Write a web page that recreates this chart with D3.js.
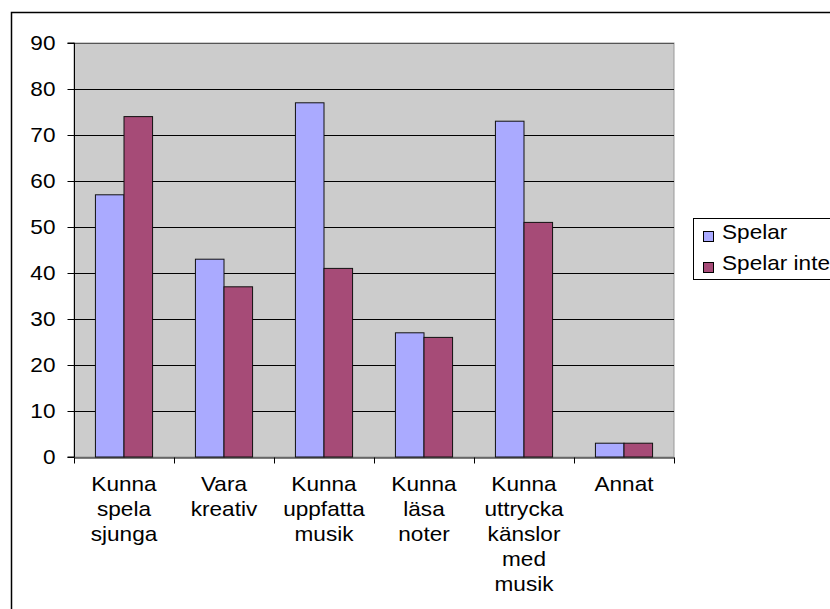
<!DOCTYPE html>
<html><head><meta charset="utf-8">
<script src="https://cdnjs.cloudflare.com/ajax/libs/d3/7.8.5/d3.min.js"></script>
<style>
html,body{margin:0;padding:0;background:#fff;}
svg{display:block;font-family:"Liberation Sans",Arial,sans-serif;}
</style></head>
<body>
<svg id="c" width="830" height="609"></svg>
<script>
const categories = [
  ["Kunna","spela","sjunga"],
  ["Vara","kreativ"],
  ["Kunna","uppfatta","musik"],
  ["Kunna","läsa","noter"],
  ["Kunna","uttrycka","känslor","med","musik"],
  ["Annat"]
];
const seriesNames = ["Spelar","Spelar inte"];
const spelar = [57, 43, 77, 27, 73, 3];
const spelarInte = [74, 37, 41, 26, 51, 3];
const yTicks = [0,10,20,30,40,50,60,70,80,90];
const colors = ["#AAAAFF","#A64B77"];

const SX = 1.13; // horizontal stretch of text in the reference
const svg = d3.select("#c");
const plot = {left:74, right:674, top:43, bottom:457};

// outer chart border
svg.append("rect").attr("x",11.5).attr("y",12.5).attr("width",830).attr("height",620)
  .attr("fill","#fff").attr("stroke","#000").attr("stroke-width",1.5);

const catIdx = categories.map((d,i)=>i);
const x0 = d3.scaleBand().domain(catIdx).range([plot.left, plot.right]).padding(0);
const x1 = d3.scaleBand().domain(seriesNames).range([0, x0.bandwidth()]).paddingInner(0).paddingOuter(0.75);
const y = d3.scaleLinear().domain([0,90]).range([plot.bottom, plot.top]);

// plot background
svg.append("rect").attr("x",plot.left).attr("y",plot.top)
  .attr("width",plot.right-plot.left).attr("height",plot.bottom-plot.top)
  .attr("fill","#CCCCCC").attr("stroke","#999").attr("stroke-width",1);

// gridlines
svg.append("g").selectAll("line").data(yTicks.filter(t=>t>0 && t<90)).join("line")
  .attr("x1",plot.left).attr("x2",plot.right)
  .attr("y1",d=>Math.round(y(d))+0.5).attr("y2",d=>Math.round(y(d))+0.5)
  .attr("stroke","#000").attr("stroke-width",1);
svg.append("line").attr("x1",plot.left).attr("x2",plot.right)
  .attr("y1",plot.top+0.5).attr("y2",plot.top+0.5).attr("stroke","#555");

// bars
const data = categories.map((c,i)=>[spelar[i], spelarInte[i]]);
const groups = svg.append("g").selectAll("g").data(data).join("g")
  .attr("transform",(d,i)=>`translate(${x0(i)},0)`);
groups.selectAll("rect").data(d=>d.map((v,j)=>({v, s:seriesNames[j], j}))).join("rect")
  .attr("x",d=>x1(d.s)).attr("width",x1.bandwidth())
  .attr("y",d=>y(d.v)).attr("height",d=>y(0)-y(d.v))
  .attr("fill",d=>colors[d.j]).attr("stroke","#111").attr("stroke-width",1);

// y axis
const yAxis = d3.axisLeft(y).tickValues(yTicks).tickSize(7).tickPadding(9);
const gy = svg.append("g").attr("transform",`translate(${plot.left+0.5},0)`).call(yAxis);
gy.selectAll("path.domain").attr("stroke","#000").attr("d",`M-7,${plot.top}H0V${plot.bottom}H-7`);
gy.selectAll("line").attr("stroke","#000");
gy.selectAll(".tick text").attr("font-size","20px").attr("fill","#000")
  .attr("font-family","Liberation Sans, Arial, sans-serif")
  .attr("x",0).attr("transform",`translate(-19,0) scale(${SX},1)`);

// x axis
const xAxis = d3.axisBottom(x0).tickValues([]).tickSizeOuter(0);
const gx = svg.append("g").attr("transform",`translate(0,${plot.bottom+0.5})`).call(xAxis);
gx.select("path.domain").attr("stroke","#000");
const bounds = d3.range(categories.length+1).map(i=> i<categories.length ? x0(i) : plot.right);
gx.selectAll("line.tk").data(bounds).join("line").attr("class","tk")
  .attr("x1",d=>Math.round(d)+0.5).attr("x2",d=>Math.round(d)+0.5)
  .attr("y1",0).attr("y2",6).attr("stroke","#000");

// category labels
const lbl = svg.append("g").selectAll("text").data(categories).join("text")
  .attr("text-anchor","middle").attr("font-size","20px").attr("fill","#000")
  .attr("transform",(d,i)=>`translate(${x0(i)+x0.bandwidth()/2},491) scale(${SX},1)`);
lbl.selectAll("tspan").data(d=>d).join("tspan")
  .attr("x",0).attr("y",(d,k)=>k*25).text(d=>d);

// legend
const lg = svg.append("g");
lg.append("rect").attr("x",693.5).attr("y",218.5).attr("width",200).attr("height",61)
  .attr("fill","#fff").attr("stroke","#000").attr("stroke-width",1);
const li = lg.selectAll("g").data(seriesNames).join("g")
  .attr("transform",(d,i)=>`translate(0,${i*31})`);
li.append("rect").attr("x",703.5).attr("y",231.5).attr("width",10).attr("height",10)
  .attr("fill",(d,i)=>colors[i]).attr("stroke","#000");
li.append("text").attr("font-size","20px").attr("fill","#000")
  .attr("transform",`translate(722,239) scale(${SX},1)`).text(d=>d);
</script>
</body></html>
